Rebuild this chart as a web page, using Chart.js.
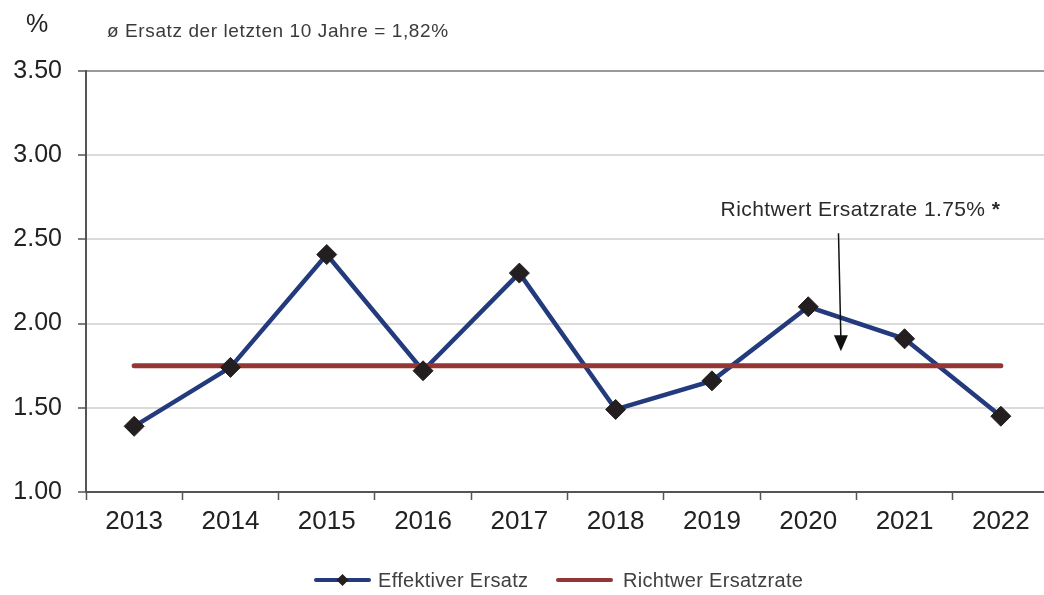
<!DOCTYPE html>
<html>
<head>
<meta charset="utf-8">
<script src="https://cdn.jsdelivr.net/npm/chart.js@4/dist/chart.umd.min.js"></script>
<style>
  html, body { margin: 0; padding: 0; overflow: hidden; background: #fff; }
  #wrap { width: 1060px; height: 595px; position: relative; }
</style>
</head>
<body>
<div id="wrap"><canvas id="ersatz-chart"></canvas></div>
<script>
const jahre = ["2013", "2014", "2015", "2016", "2017", "2018", "2019", "2020", "2021", "2022"];
const effektiverErsatz = [1.39, 1.74, 2.41, 1.72, 2.30, 1.49, 1.66, 2.10, 1.91, 1.45];
const richtwert = [1.75, 1.75, 1.75, 1.75, 1.75, 1.75, 1.75, 1.75, 1.75, 1.75];
const yTicks = [1.0, 1.5, 2.0, 2.5, 3.0, 3.5];

const BLAU = "#233a7c";
const ROT = "#943634";
const MARKER = "#231f20";
const FONT = "'Liberation Sans', Arial, sans-serif";

// Texte, Pfeil und Legende direkt auf den Canvas
const extras = {
  id: "extras",
  afterDraw(chart) {
    const c = chart.ctx;
    const x = chart.scales.x;
    const y = chart.scales.y;
    c.save();
    c.textBaseline = "alphabetic";

    c.fillStyle = "#222";
    c.font = "25px " + FONT;
    c.fillText("%", 26, 32);

    c.fillStyle = "#3a3a3a";
    c.font = "19px " + FONT;
    c.letterSpacing = "0.6px";
    c.fillText("ø Ersatz der letzten 10 Jahre = 1,82%", 107, 37);

    // Hinweis Richtwert mit Pfeil
    const tx = x.getPixelForValue(6.09);
    const ty = y.getPixelForValue(2.64);
    const txt = "Richtwert Ersatzrate 1.75% ";
    c.fillStyle = "#2a2a2a";
    c.font = "21px " + FONT;
    c.letterSpacing = "0.4px";
    c.fillText(txt, tx, ty);
    const w = c.measureText(txt).width;
    c.font = "bold 21px " + FONT;
    c.fillText("*", tx + w, ty);
    c.letterSpacing = "0px";

    const ax1 = x.getPixelForValue(7.314), ay1 = y.getPixelForValue(2.536);
    const ax2 = x.getPixelForValue(7.339), ay2 = y.getPixelForValue(1.836);
    c.strokeStyle = "#111";
    c.lineWidth = 1.5;
    c.beginPath();
    c.moveTo(ax1, ay1);
    c.lineTo(ax2, ay2 - 12);
    c.stroke();
    c.fillStyle = "#111";
    c.beginPath();
    c.moveTo(ax2 - 7, ay2 - 16);
    c.lineTo(ax2 + 7, ay2 - 16);
    c.lineTo(ax2, ay2);
    c.closePath();
    c.fill();

    // Legende
    const ly = 580;
    c.lineCap = "round";
    c.lineWidth = 4;
    c.strokeStyle = BLAU;
    c.beginPath(); c.moveTo(316, ly); c.lineTo(369, ly); c.stroke();
    c.fillStyle = MARKER;
    c.beginPath();
    c.moveTo(342.5, ly - 6); c.lineTo(348.5, ly); c.lineTo(342.5, ly + 6); c.lineTo(336.5, ly);
    c.closePath(); c.fill();
    c.strokeStyle = ROT;
    c.beginPath(); c.moveTo(558, ly); c.lineTo(611, ly); c.stroke();

    c.fillStyle = "#404040";
    c.font = "20px " + FONT;
    c.letterSpacing = "0.3px";
    c.textBaseline = "middle";
    c.fillText(chart.data.datasets[0].label, 378, ly + 1);
    c.fillText(chart.data.datasets[1].label, 623, ly + 1);
    c.restore();
  }
};

const chart = new Chart(document.getElementById("ersatz-chart").getContext("2d"), {
  type: "line",
  data: {
    labels: jahre,
    datasets: [
      {
        label: "Effektiver Ersatz",
        data: effektiverErsatz,
        borderColor: BLAU,
        borderWidth: 4.5,
        pointRadius: 0,
        tension: 0,
        order: 3,
      },
      {
        label: "Richtwer Ersatzrate",
        data: richtwert,
        borderColor: ROT,
        borderWidth: 5,
        borderCapStyle: "round",
        pointRadius: 0,
        tension: 0,
        order: 2,
      },
      {
        label: "Marker",
        data: effektiverErsatz,
        showLine: false,
        pointStyle: "rectRot",
        pointRadius: 10,
        pointBackgroundColor: MARKER,
        pointBorderColor: MARKER,
        pointBorderWidth: 1,
        order: 1,
      },
    ],
  },
  options: {
    responsive: true,
    maintainAspectRatio: false,
    animation: false,
    layout: { padding: { top: 71, right: 0, bottom: 53, left: 0 } },
    plugins: {
      legend: { display: false },
      tooltip: { enabled: false },
    },
    scales: {
      x: {
        offset: true,
        grid: {
          offset: true,
          drawOnChartArea: false,
          drawTicks: true,
          tickLength: 8,
          tickColor: "#555",
          tickWidth: 1.5,
        },
        border: { color: "#555", width: 2 },
        ticks: {
          color: "#222",
          font: { family: FONT, size: 26 },
          padding: 6,
          maxRotation: 0,
        },
        afterFit(scale) { scale.height = 50; },
      },
      y: {
        min: yTicks[0],
        max: yTicks[yTicks.length - 1],
        afterBuildTicks(scale) { scale.ticks = yTicks.map((v) => ({ value: v })); },
        grid: {
          color: (ctx) => (ctx.tick && ctx.tick.value === 3.5 ? "#9a9a9a" : "#dadada"),
          lineWidth: 2,
          tickLength: 8,
          tickColor: "#555",
          tickWidth: 1.5,
        },
        border: { color: "#555", width: 2 },
        ticks: {
          color: "#222",
          font: { family: FONT, size: 25 },
          padding: 16,
          callback: (v) => Number(v).toFixed(2),
        },
        afterFit(scale) { scale.width = 86; },
      },
    },
  },
  plugins: [extras],
});
</script>
</body>
</html>
